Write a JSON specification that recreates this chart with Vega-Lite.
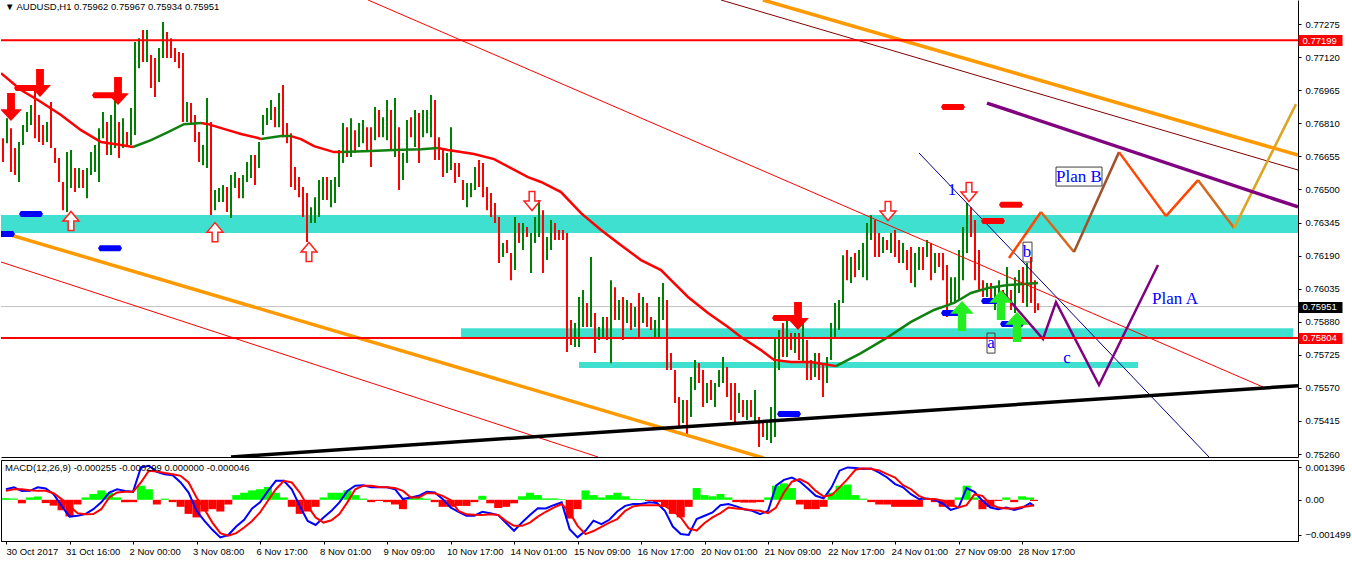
{
"$schema":"https://vega.github.io/schema/vega-lite/v6.json",
"padding":0,
"background":"white",
"spacing":3,
"bounds":"flush",
"config":{"view":{"stroke":null},"axis":{"labelFont":"Liberation Sans","labelFontSize":9.5,"labelColor":"#000000","tickColor":"#000000","domainColor":"#000000","grid":false,"labelOverlap":false},"title":{"font":"Liberation Sans","fontSize":9.5,"fontWeight":"normal","color":"#000000"}},
"datasets":{
"bars":[
{"t":1,"o":0.7674,"h":0.7674,"l":0.76629,"c":0.76629},
{"t":3,"o":0.76717,"h":0.76834,"l":0.76717,"c":0.76834},
{"t":5,"o":0.76787,"h":0.76787,"l":0.76582,"c":0.76582},
{"t":7,"o":0.76694,"h":0.76694,"l":0.76568,"c":0.76568},
{"t":9,"o":0.76535,"h":0.76722,"l":0.76535,"c":0.76722},
{"t":11,"o":0.76708,"h":0.76802,"l":0.76708,"c":0.76802},
{"t":13,"o":0.76769,"h":0.76863,"l":0.76769,"c":0.76863},
{"t":15,"o":0.76802,"h":0.76896,"l":0.76802,"c":0.76896},
{"t":17,"o":0.76976,"h":0.76976,"l":0.7674,"c":0.7674},
{"t":19,"o":0.76849,"h":0.76849,"l":0.76722,"c":0.76722},
{"t":21,"o":0.76802,"h":0.76802,"l":0.76708,"c":0.76708},
{"t":23,"o":0.76722,"h":0.76816,"l":0.76722,"c":0.76816},
{"t":25,"o":0.7691,"h":0.7691,"l":0.76694,"c":0.76694},
{"t":27,"o":0.76694,"h":0.76694,"l":0.76624,"c":0.76624},
{"t":29,"o":0.76647,"h":0.76647,"l":0.76535,"c":0.76535},
{"t":31,"o":0.76535,"h":0.76535,"l":0.76403,"c":0.76403},
{"t":33,"o":0.76394,"h":0.76675,"l":0.76394,"c":0.76675},
{"t":35,"o":0.76507,"h":0.76685,"l":0.76507,"c":0.76685},
{"t":37,"o":0.766,"h":0.766,"l":0.76488,"c":0.76488},
{"t":39,"o":0.76507,"h":0.766,"l":0.76507,"c":0.766},
{"t":41,"o":0.76591,"h":0.76591,"l":0.76507,"c":0.76507},
{"t":43,"o":0.76459,"h":0.766,"l":0.76459,"c":0.766},
{"t":45,"o":0.76568,"h":0.76675,"l":0.76568,"c":0.76675},
{"t":47,"o":0.76582,"h":0.76708,"l":0.76582,"c":0.76708},
{"t":49,"o":0.76535,"h":0.76787,"l":0.76535,"c":0.76787},
{"t":51,"o":0.7674,"h":0.76863,"l":0.7674,"c":0.76863},
{"t":53,"o":0.76816,"h":0.76816,"l":0.76661,"c":0.76661},
{"t":55,"o":0.76661,"h":0.76849,"l":0.76661,"c":0.76849},
{"t":57,"o":0.76694,"h":0.76943,"l":0.76694,"c":0.76943},
{"t":59,"o":0.76816,"h":0.76816,"l":0.76647,"c":0.76647},
{"t":61,"o":0.76694,"h":0.76834,"l":0.76694,"c":0.76834},
{"t":63,"o":0.76769,"h":0.76769,"l":0.76708,"c":0.76708},
{"t":65,"o":0.76708,"h":0.76882,"l":0.76708,"c":0.76882},
{"t":67,"o":0.76755,"h":0.77191,"l":0.76755,"c":0.77191},
{"t":69,"o":0.77068,"h":0.77209,"l":0.77068,"c":0.77209},
{"t":71,"o":0.77247,"h":0.77247,"l":0.77097,"c":0.77097},
{"t":73,"o":0.77097,"h":0.77247,"l":0.77097,"c":0.77247},
{"t":75,"o":0.7713,"h":0.7713,"l":0.76976,"c":0.76976},
{"t":77,"o":0.77116,"h":0.77116,"l":0.76933,"c":0.76933},
{"t":79,"o":0.77004,"h":0.77163,"l":0.77004,"c":0.77163},
{"t":81,"o":0.77116,"h":0.77285,"l":0.77116,"c":0.77285},
{"t":83,"o":0.77238,"h":0.77238,"l":0.77116,"c":0.77116},
{"t":85,"o":0.77209,"h":0.77209,"l":0.77116,"c":0.77116},
{"t":87,"o":0.77163,"h":0.77163,"l":0.77097,"c":0.77097},
{"t":89,"o":0.77144,"h":0.77144,"l":0.77068,"c":0.77068},
{"t":91,"o":0.77139,"h":0.77139,"l":0.76816,"c":0.76816},
{"t":93,"o":0.76816,"h":0.7691,"l":0.76816,"c":0.7691},
{"t":95,"o":0.76905,"h":0.76905,"l":0.76802,"c":0.76802},
{"t":97,"o":0.76849,"h":0.76849,"l":0.76722,"c":0.76722},
{"t":99,"o":0.76769,"h":0.76769,"l":0.76629,"c":0.76629},
{"t":101,"o":0.76614,"h":0.76708,"l":0.76614,"c":0.76708},
{"t":103,"o":0.766,"h":0.76929,"l":0.766,"c":0.76929},
{"t":105,"o":0.76816,"h":0.76816,"l":0.7638,"c":0.7638},
{"t":107,"o":0.76403,"h":0.76497,"l":0.76403,"c":0.76497},
{"t":109,"o":0.76441,"h":0.76507,"l":0.76441,"c":0.76507},
{"t":111,"o":0.76441,"h":0.76521,"l":0.76441,"c":0.76521},
{"t":113,"o":0.76511,"h":0.76511,"l":0.76394,"c":0.76394},
{"t":115,"o":0.76366,"h":0.76568,"l":0.76366,"c":0.76568},
{"t":117,"o":0.76507,"h":0.76582,"l":0.76507,"c":0.76582},
{"t":119,"o":0.76554,"h":0.76554,"l":0.76459,"c":0.76459},
{"t":121,"o":0.76459,"h":0.76568,"l":0.76459,"c":0.76568},
{"t":123,"o":0.76535,"h":0.76629,"l":0.76535,"c":0.76629},
{"t":125,"o":0.76554,"h":0.76661,"l":0.76554,"c":0.76661},
{"t":127,"o":0.76661,"h":0.76661,"l":0.76521,"c":0.76521},
{"t":129,"o":0.766,"h":0.76722,"l":0.766,"c":0.76722},
{"t":131,"o":0.76755,"h":0.76849,"l":0.76755,"c":0.76849},
{"t":133,"o":0.76802,"h":0.76882,"l":0.76802,"c":0.76882},
{"t":135,"o":0.76825,"h":0.76919,"l":0.76825,"c":0.76919},
{"t":137,"o":0.76886,"h":0.76886,"l":0.76792,"c":0.76792},
{"t":139,"o":0.76792,"h":0.76952,"l":0.76792,"c":0.76952},
{"t":141,"o":0.7699,"h":0.7699,"l":0.76745,"c":0.76745},
{"t":143,"o":0.76811,"h":0.76811,"l":0.76717,"c":0.76717},
{"t":145,"o":0.76764,"h":0.76764,"l":0.76511,"c":0.76511},
{"t":147,"o":0.76605,"h":0.76605,"l":0.76497,"c":0.76497},
{"t":149,"o":0.76558,"h":0.76558,"l":0.76464,"c":0.76464},
{"t":151,"o":0.76511,"h":0.76511,"l":0.76371,"c":0.76371},
{"t":153,"o":0.76483,"h":0.76483,"l":0.76254,"c":0.76254},
{"t":155,"o":0.76343,"h":0.76417,"l":0.76343,"c":0.76417},
{"t":157,"o":0.76343,"h":0.76464,"l":0.76343,"c":0.76464},
{"t":159,"o":0.76371,"h":0.76544,"l":0.76371,"c":0.76544},
{"t":161,"o":0.7645,"h":0.76558,"l":0.7645,"c":0.76558},
{"t":163,"o":0.76558,"h":0.76558,"l":0.7645,"c":0.7645},
{"t":165,"o":0.76417,"h":0.76544,"l":0.76417,"c":0.76544},
{"t":167,"o":0.76436,"h":0.76558,"l":0.76436,"c":0.76558},
{"t":169,"o":0.76511,"h":0.76685,"l":0.76511,"c":0.76685},
{"t":171,"o":0.76624,"h":0.76811,"l":0.76624,"c":0.76811},
{"t":173,"o":0.76792,"h":0.76792,"l":0.76652,"c":0.76652},
{"t":175,"o":0.76652,"h":0.76834,"l":0.76652,"c":0.76834},
{"t":177,"o":0.76778,"h":0.76778,"l":0.76671,"c":0.76671},
{"t":179,"o":0.76699,"h":0.76811,"l":0.76699,"c":0.76811},
{"t":181,"o":0.76717,"h":0.76825,"l":0.76717,"c":0.76825},
{"t":183,"o":0.76792,"h":0.76792,"l":0.76685,"c":0.76685},
{"t":185,"o":0.76792,"h":0.76792,"l":0.76605,"c":0.76605},
{"t":187,"o":0.76731,"h":0.76886,"l":0.76731,"c":0.76886},
{"t":189,"o":0.76872,"h":0.76872,"l":0.76745,"c":0.76745},
{"t":191,"o":0.76745,"h":0.76839,"l":0.76745,"c":0.76839},
{"t":193,"o":0.76731,"h":0.76919,"l":0.76731,"c":0.76919},
{"t":195,"o":0.76872,"h":0.76872,"l":0.76685,"c":0.76685},
{"t":197,"o":0.76652,"h":0.76929,"l":0.76652,"c":0.76929},
{"t":199,"o":0.76792,"h":0.76792,"l":0.76497,"c":0.76497},
{"t":201,"o":0.76544,"h":0.76671,"l":0.76544,"c":0.76671},
{"t":203,"o":0.76624,"h":0.76825,"l":0.76624,"c":0.76825},
{"t":205,"o":0.76839,"h":0.76839,"l":0.76745,"c":0.76745},
{"t":207,"o":0.76699,"h":0.76872,"l":0.76699,"c":0.76872},
{"t":209,"o":0.76858,"h":0.76858,"l":0.76624,"c":0.76624},
{"t":211,"o":0.76745,"h":0.76872,"l":0.76745,"c":0.76872},
{"t":213,"o":0.76764,"h":0.76872,"l":0.76764,"c":0.76872},
{"t":215,"o":0.76745,"h":0.76943,"l":0.76745,"c":0.76943},
{"t":217,"o":0.76919,"h":0.76919,"l":0.76638,"c":0.76638},
{"t":219,"o":0.76745,"h":0.76745,"l":0.76638,"c":0.76638},
{"t":221,"o":0.76685,"h":0.76685,"l":0.76558,"c":0.76558},
{"t":223,"o":0.76577,"h":0.76671,"l":0.76577,"c":0.76671},
{"t":225,"o":0.76591,"h":0.76792,"l":0.76591,"c":0.76792},
{"t":227,"o":0.76624,"h":0.76624,"l":0.7653,"c":0.7653},
{"t":229,"o":0.76624,"h":0.76624,"l":0.76558,"c":0.76558},
{"t":231,"o":0.76544,"h":0.76544,"l":0.7645,"c":0.7645},
{"t":233,"o":0.76417,"h":0.7653,"l":0.76417,"c":0.7653},
{"t":235,"o":0.76464,"h":0.7653,"l":0.76464,"c":0.7653},
{"t":237,"o":0.76497,"h":0.76605,"l":0.76497,"c":0.76605},
{"t":239,"o":0.76638,"h":0.76638,"l":0.76511,"c":0.76511},
{"t":241,"o":0.76624,"h":0.76624,"l":0.76464,"c":0.76464},
{"t":243,"o":0.76511,"h":0.76511,"l":0.76403,"c":0.76403},
{"t":245,"o":0.76483,"h":0.76483,"l":0.76371,"c":0.76371},
{"t":247,"o":0.76436,"h":0.76436,"l":0.76343,"c":0.76343},
{"t":249,"o":0.76371,"h":0.76371,"l":0.76155,"c":0.76155},
{"t":251,"o":0.76183,"h":0.76249,"l":0.76183,"c":0.76249},
{"t":253,"o":0.76263,"h":0.76263,"l":0.76202,"c":0.76202},
{"t":255,"o":0.76202,"h":0.76202,"l":0.76075,"c":0.76075},
{"t":257,"o":0.76122,"h":0.76371,"l":0.76122,"c":0.76371},
{"t":259,"o":0.76343,"h":0.76343,"l":0.76249,"c":0.76249},
{"t":261,"o":0.76216,"h":0.76343,"l":0.76216,"c":0.76343},
{"t":263,"o":0.76324,"h":0.76324,"l":0.76277,"c":0.76277},
{"t":265,"o":0.76108,"h":0.76296,"l":0.76108,"c":0.76296},
{"t":267,"o":0.76249,"h":0.76371,"l":0.76249,"c":0.76371},
{"t":269,"o":0.76277,"h":0.7645,"l":0.76277,"c":0.7645},
{"t":271,"o":0.76403,"h":0.76403,"l":0.76108,"c":0.76108},
{"t":273,"o":0.76169,"h":0.76277,"l":0.76169,"c":0.76277},
{"t":275,"o":0.76216,"h":0.76357,"l":0.76216,"c":0.76357},
{"t":277,"o":0.76343,"h":0.76343,"l":0.76263,"c":0.76263},
{"t":279,"o":0.7631,"h":0.7631,"l":0.76263,"c":0.76263},
{"t":281,"o":0.7631,"h":0.7631,"l":0.76263,"c":0.76263},
{"t":283,"o":0.76296,"h":0.76296,"l":0.75738,"c":0.75738},
{"t":285,"o":0.75888,"h":0.75888,"l":0.75771,"c":0.75771},
{"t":287,"o":0.75761,"h":0.75874,"l":0.75761,"c":0.75874},
{"t":289,"o":0.75761,"h":0.75996,"l":0.75761,"c":0.75996},
{"t":291,"o":0.75855,"h":0.76029,"l":0.75855,"c":0.76029},
{"t":293,"o":0.75968,"h":0.75968,"l":0.75855,"c":0.75855},
{"t":295,"o":0.75855,"h":0.76183,"l":0.75855,"c":0.76183},
{"t":297,"o":0.75921,"h":0.75921,"l":0.75733,"c":0.75733},
{"t":299,"o":0.75794,"h":0.75855,"l":0.75794,"c":0.75855},
{"t":301,"o":0.75808,"h":0.75902,"l":0.75808,"c":0.75902},
{"t":303,"o":0.75902,"h":0.75902,"l":0.75794,"c":0.75794},
{"t":305,"o":0.75686,"h":0.76075,"l":0.75686,"c":0.76075},
{"t":307,"o":0.76042,"h":0.76042,"l":0.75888,"c":0.75888},
{"t":309,"o":0.75888,"h":0.75982,"l":0.75888,"c":0.75982},
{"t":311,"o":0.75996,"h":0.75996,"l":0.75794,"c":0.75794},
{"t":313,"o":0.75874,"h":0.75982,"l":0.75874,"c":0.75982},
{"t":315,"o":0.75968,"h":0.75968,"l":0.75841,"c":0.75841},
{"t":317,"o":0.75855,"h":0.75949,"l":0.75855,"c":0.75949},
{"t":319,"o":0.76015,"h":0.76015,"l":0.75808,"c":0.75808},
{"t":321,"o":0.75874,"h":0.75996,"l":0.75874,"c":0.75996},
{"t":323,"o":0.75968,"h":0.75968,"l":0.75855,"c":0.75855},
{"t":325,"o":0.75902,"h":0.75902,"l":0.75841,"c":0.75841},
{"t":327,"o":0.75808,"h":0.75888,"l":0.75808,"c":0.75888},
{"t":329,"o":0.75808,"h":0.75996,"l":0.75808,"c":0.75996},
{"t":331,"o":0.75888,"h":0.76061,"l":0.75888,"c":0.76061},
{"t":333,"o":0.75982,"h":0.75982,"l":0.75654,"c":0.75654},
{"t":335,"o":0.75733,"h":0.75733,"l":0.75654,"c":0.75654},
{"t":337,"o":0.75654,"h":0.75654,"l":0.75499,"c":0.75499},
{"t":339,"o":0.75527,"h":0.75527,"l":0.75387,"c":0.75387},
{"t":341,"o":0.75405,"h":0.75513,"l":0.75405,"c":0.75513},
{"t":343,"o":0.75513,"h":0.75513,"l":0.7534,"c":0.7534},
{"t":345,"o":0.75433,"h":0.75621,"l":0.75433,"c":0.75621},
{"t":347,"o":0.7556,"h":0.75701,"l":0.7556,"c":0.75701},
{"t":349,"o":0.75687,"h":0.75687,"l":0.75593,"c":0.75593},
{"t":351,"o":0.75654,"h":0.75654,"l":0.7548,"c":0.7548},
{"t":353,"o":0.75499,"h":0.75593,"l":0.75499,"c":0.75593},
{"t":355,"o":0.75607,"h":0.75607,"l":0.75513,"c":0.75513},
{"t":357,"o":0.7548,"h":0.75593,"l":0.7548,"c":0.75593},
{"t":359,"o":0.75574,"h":0.75654,"l":0.75574,"c":0.75654},
{"t":361,"o":0.75593,"h":0.75715,"l":0.75593,"c":0.75715},
{"t":363,"o":0.75668,"h":0.75668,"l":0.75527,"c":0.75527},
{"t":365,"o":0.75593,"h":0.75593,"l":0.75419,"c":0.75419},
{"t":367,"o":0.75593,"h":0.75593,"l":0.75405,"c":0.75405},
{"t":369,"o":0.75452,"h":0.75546,"l":0.75452,"c":0.75546},
{"t":371,"o":0.75513,"h":0.75513,"l":0.75433,"c":0.75433},
{"t":373,"o":0.75419,"h":0.75513,"l":0.75419,"c":0.75513},
{"t":375,"o":0.75513,"h":0.75513,"l":0.75433,"c":0.75433},
{"t":377,"o":0.75405,"h":0.7556,"l":0.75405,"c":0.7556},
{"t":379,"o":0.75433,"h":0.75433,"l":0.75293,"c":0.75293},
{"t":381,"o":0.75405,"h":0.75405,"l":0.7534,"c":0.7534},
{"t":383,"o":0.75326,"h":0.75419,"l":0.75326,"c":0.75419},
{"t":385,"o":0.75312,"h":0.7548,"l":0.75312,"c":0.7548},
{"t":387,"o":0.7534,"h":0.75808,"l":0.7534,"c":0.75808},
{"t":389,"o":0.75654,"h":0.75841,"l":0.75654,"c":0.75841},
{"t":391,"o":0.75874,"h":0.75874,"l":0.75715,"c":0.75715},
{"t":393,"o":0.75715,"h":0.75902,"l":0.75715,"c":0.75902},
{"t":395,"o":0.75827,"h":0.75827,"l":0.75747,"c":0.75747},
{"t":397,"o":0.75733,"h":0.75827,"l":0.75733,"c":0.75827},
{"t":399,"o":0.75827,"h":0.75827,"l":0.75701,"c":0.75701},
{"t":401,"o":0.75687,"h":0.75874,"l":0.75687,"c":0.75874},
{"t":403,"o":0.75794,"h":0.75794,"l":0.75607,"c":0.75607},
{"t":405,"o":0.75701,"h":0.75701,"l":0.75607,"c":0.75607},
{"t":407,"o":0.75621,"h":0.75733,"l":0.75621,"c":0.75733},
{"t":409,"o":0.75733,"h":0.75733,"l":0.75607,"c":0.75607},
{"t":411,"o":0.75687,"h":0.75687,"l":0.75527,"c":0.75527},
{"t":413,"o":0.75593,"h":0.75715,"l":0.75593,"c":0.75715},
{"t":415,"o":0.75701,"h":0.75874,"l":0.75701,"c":0.75874},
{"t":417,"o":0.75808,"h":0.75968,"l":0.75808,"c":0.75968},
{"t":419,"o":0.75841,"h":0.75982,"l":0.75841,"c":0.75982},
{"t":421,"o":0.75968,"h":0.76192,"l":0.75968,"c":0.76192},
{"t":423,"o":0.76216,"h":0.76216,"l":0.76075,"c":0.76075},
{"t":425,"o":0.76061,"h":0.76183,"l":0.76061,"c":0.76183},
{"t":427,"o":0.76202,"h":0.76202,"l":0.76089,"c":0.76089},
{"t":429,"o":0.76122,"h":0.76216,"l":0.76122,"c":0.76216},
{"t":431,"o":0.76089,"h":0.76249,"l":0.76089,"c":0.76249},
{"t":433,"o":0.76075,"h":0.76343,"l":0.76075,"c":0.76343},
{"t":435,"o":0.76263,"h":0.7638,"l":0.76263,"c":0.7638},
{"t":437,"o":0.76357,"h":0.76357,"l":0.76183,"c":0.76183},
{"t":439,"o":0.76296,"h":0.76296,"l":0.76183,"c":0.76183},
{"t":441,"o":0.76202,"h":0.76277,"l":0.76202,"c":0.76277},
{"t":443,"o":0.76263,"h":0.76263,"l":0.76216,"c":0.76216},
{"t":445,"o":0.76202,"h":0.76296,"l":0.76202,"c":0.76296},
{"t":447,"o":0.7631,"h":0.7631,"l":0.76183,"c":0.76183},
{"t":449,"o":0.76263,"h":0.76263,"l":0.76155,"c":0.76155},
{"t":451,"o":0.76155,"h":0.76249,"l":0.76155,"c":0.76249},
{"t":453,"o":0.76216,"h":0.76216,"l":0.76122,"c":0.76122},
{"t":455,"o":0.7623,"h":0.7623,"l":0.76061,"c":0.76061},
{"t":457,"o":0.76042,"h":0.76202,"l":0.76042,"c":0.76202},
{"t":459,"o":0.76122,"h":0.7623,"l":0.76122,"c":0.7623},
{"t":461,"o":0.7623,"h":0.7623,"l":0.76122,"c":0.76122},
{"t":463,"o":0.76183,"h":0.76263,"l":0.76183,"c":0.76263},
{"t":465,"o":0.76249,"h":0.76249,"l":0.76075,"c":0.76075},
{"t":467,"o":0.76108,"h":0.76202,"l":0.76108,"c":0.76202},
{"t":469,"o":0.76202,"h":0.76202,"l":0.76136,"c":0.76136},
{"t":471,"o":0.76202,"h":0.76202,"l":0.76075,"c":0.76075},
{"t":473,"o":0.76146,"h":0.76146,"l":0.75902,"c":0.75902},
{"t":475,"o":0.75968,"h":0.76089,"l":0.75968,"c":0.76089},
{"t":477,"o":0.75968,"h":0.76089,"l":0.75968,"c":0.76089},
{"t":479,"o":0.75982,"h":0.76216,"l":0.75982,"c":0.76216},
{"t":481,"o":0.76075,"h":0.76324,"l":0.76075,"c":0.76324},
{"t":483,"o":0.76202,"h":0.76436,"l":0.76202,"c":0.76436},
{"t":485,"o":0.76417,"h":0.76417,"l":0.76277,"c":0.76277},
{"t":487,"o":0.76357,"h":0.76357,"l":0.76075,"c":0.76075},
{"t":489,"o":0.76216,"h":0.76216,"l":0.76029,"c":0.76029},
{"t":491,"o":0.76075,"h":0.76075,"l":0.75996,"c":0.75996},
{"t":493,"o":0.75996,"h":0.76061,"l":0.75996,"c":0.76061},
{"t":495,"o":0.76061,"h":0.76061,"l":0.75982,"c":0.75982},
{"t":497,"o":0.75935,"h":0.76042,"l":0.75935,"c":0.76042},
{"t":499,"o":0.75996,"h":0.76075,"l":0.75996,"c":0.76075},
{"t":501,"o":0.76029,"h":0.76029,"l":0.75902,"c":0.75902},
{"t":503,"o":0.75996,"h":0.76136,"l":0.75996,"c":0.76136},
{"t":505,"o":0.76029,"h":0.76029,"l":0.75935,"c":0.75935},
{"t":507,"o":0.75921,"h":0.76089,"l":0.75921,"c":0.76089},
{"t":509,"o":0.76015,"h":0.76122,"l":0.76015,"c":0.76122},
{"t":511,"o":0.76136,"h":0.76136,"l":0.75968,"c":0.75968},
{"t":513,"o":0.75949,"h":0.76155,"l":0.75949,"c":0.76155},
{"t":515,"o":0.76183,"h":0.76183,"l":0.75968,"c":0.75968},
{"t":517,"o":0.76075,"h":0.76075,"l":0.75921,"c":0.75921},
{"t":518.5,"o":0.75962,"h":0.75967,"l":0.75934,"c":0.75951}
],
"ma":[
{"t":0,"p":0.77045,"seg":1,"dir":"down"},{"t":10,"p":0.76966,"seg":1,"dir":"down"},{"t":20,"p":0.7691,"seg":1,"dir":"down"},{"t":30,"p":0.76849,"seg":1,"dir":"down"},{"t":40,"p":0.76778,"seg":1,"dir":"down"},{"t":50,"p":0.76722,"seg":1,"dir":"down"},{"t":60,"p":0.76708,"seg":1,"dir":"down"},{"t":66,"p":0.76699,"seg":1,"dir":"down"},
{"t":66,"p":0.76699,"seg":2,"dir":"up"},{"t":75,"p":0.76731,"seg":2,"dir":"up"},{"t":83.5,"p":0.76769,"seg":2,"dir":"up"},{"t":91.5,"p":0.76806,"seg":2,"dir":"up"},{"t":100,"p":0.76811,"seg":2,"dir":"up"},
{"t":100,"p":0.76811,"seg":3,"dir":"down"},{"t":103.5,"p":0.76806,"seg":3,"dir":"down"},{"t":113.5,"p":0.76778,"seg":3,"dir":"down"},{"t":120,"p":0.7676,"seg":3,"dir":"down"},{"t":128.5,"p":0.76741,"seg":3,"dir":"down"},{"t":130,"p":0.76736,"seg":3,"dir":"down"},
{"t":130,"p":0.76736,"seg":4,"dir":"up"},{"t":140,"p":0.7675,"seg":4,"dir":"up"},{"t":145,"p":0.7675,"seg":4,"dir":"up"},
{"t":145,"p":0.7675,"seg":5,"dir":"down"},{"t":150,"p":0.76736,"seg":5,"dir":"down"},{"t":156.5,"p":0.76703,"seg":5,"dir":"down"},{"t":166.5,"p":0.76675,"seg":5,"dir":"down"},{"t":170,"p":0.76675,"seg":5,"dir":"down"},
{"t":170,"p":0.76675,"seg":6,"dir":"up"},{"t":185,"p":0.7668,"seg":6,"dir":"up"},{"t":196.5,"p":0.76685,"seg":6,"dir":"up"},{"t":210,"p":0.76689,"seg":6,"dir":"up"},{"t":218.5,"p":0.76694,"seg":6,"dir":"up"},
{"t":218.5,"p":0.76694,"seg":7,"dir":"down"},{"t":223.5,"p":0.76685,"seg":7,"dir":"down"},{"t":236.5,"p":0.76666,"seg":7,"dir":"down"},{"t":246.5,"p":0.76642,"seg":7,"dir":"down"},{"t":255,"p":0.766,"seg":7,"dir":"down"},{"t":263.5,"p":0.76558,"seg":7,"dir":"down"},{"t":270,"p":0.76535,"seg":7,"dir":"down"},{"t":280,"p":0.76488,"seg":7,"dir":"down"},{"t":290,"p":0.76389,"seg":7,"dir":"down"},{"t":300,"p":0.7631,"seg":7,"dir":"down"},{"t":310,"p":0.76239,"seg":7,"dir":"down"},{"t":320,"p":0.76169,"seg":7,"dir":"down"},{"t":330,"p":0.76122,"seg":7,"dir":"down"},{"t":335,"p":0.76075,"seg":7,"dir":"down"},{"t":343.5,"p":0.75996,"seg":7,"dir":"down"},{"t":353.5,"p":0.75921,"seg":7,"dir":"down"},{"t":363.5,"p":0.75855,"seg":7,"dir":"down"},{"t":370,"p":0.75808,"seg":7,"dir":"down"},{"t":380,"p":0.75747,"seg":7,"dir":"down"},{"t":386.5,"p":0.75701,"seg":7,"dir":"down"},{"t":395,"p":0.75691,"seg":7,"dir":"down"},{"t":405,"p":0.75691,"seg":7,"dir":"down"},{"t":417.5,"p":0.75672,"seg":7,"dir":"down"},
{"t":417.5,"p":0.75672,"seg":8,"dir":"up"},{"t":430,"p":0.75733,"seg":8,"dir":"up"},{"t":443.5,"p":0.75808,"seg":8,"dir":"up"},{"t":455,"p":0.75879,"seg":8,"dir":"up"},{"t":466.5,"p":0.75935,"seg":8,"dir":"up"},{"t":476.5,"p":0.75968,"seg":8,"dir":"up"},{"t":485,"p":0.76015,"seg":8,"dir":"up"},{"t":493.5,"p":0.76038,"seg":8,"dir":"up"},{"t":503.5,"p":0.76052,"seg":8,"dir":"up"},{"t":518.5,"p":0.76061,"seg":8,"dir":"up"}
],
"bands":[{"t":0,"t2":648.5,"p1":0.76296,"p2":0.7638},{"t":230,"t2":646,"p1":0.75808,"p2":0.7585},{"t":289,"t2":568.5,"p1":0.75663,"p2":0.75691}],
"levels":[{"p":0.77199},{"p":0.75804}],
"bid":[{"p":0.75951}],
"lines":[
{"id":"redA","t":183.5,"p":0.77388},{"id":"redA","t":631,"p":0.75574},
{"id":"redB","t":0,"p":0.7616},{"id":"redB","t":298.5,"p":0.75246},
{"id":"orangeLo","t":0,"p":0.763},{"id":"orangeLo","t":381.5,"p":0.75241},
{"id":"orangeHi","t":381,"p":0.77388},{"id":"orangeHi","t":648.5,"p":0.76661},
{"id":"maroon","t":360,"p":0.77388},{"id":"maroon","t":648.5,"p":0.76591},
{"id":"purple","t":493,"p":0.76905},{"id":"purple","t":648.5,"p":0.76418},
{"id":"black","t":115,"p":0.75246},{"id":"black","t":648.5,"p":0.7558},
{"id":"navy","t":459,"p":0.76671},{"id":"navy","t":604,"p":0.75246},
{"id":"B1","t":504,"p":0.76179},{"id":"B1","t":520,"p":0.76394},
{"id":"B2","t":520,"p":0.76394},{"id":"B2","t":536.5,"p":0.76207},
{"id":"B3","t":536.5,"p":0.76207},{"id":"B3","t":559,"p":0.76675},
{"id":"B4","t":559,"p":0.76675},{"id":"B4","t":582.5,"p":0.76375},
{"id":"B5","t":582.5,"p":0.76375},{"id":"B5","t":598.5,"p":0.76544},
{"id":"B6","t":598.5,"p":0.76544},{"id":"B6","t":616.5,"p":0.76319},
{"id":"B7","t":616.5,"p":0.76319},{"id":"B7","t":647.5,"p":0.769},
{"id":"A","t":501,"p":0.76015},{"id":"A","t":521,"p":0.75799},{"id":"A","t":527.5,"p":0.75972},{"id":"A","t":549,"p":0.75583},{"id":"A","t":578.5,"p":0.76146}
],
"signals":[
{"k":"sell","t":5,"p":0.76886},{"k":"sell","t":19.5,"p":0.76999},{"k":"sell","t":58.5,"p":0.76961},{"k":"sell","t":398.5,"p":0.75907},
{"k":"sellH","t":265.5,"p":0.76446},{"k":"sellH","t":443.5,"p":0.76399},{"k":"sellH","t":484,"p":0.76488},
{"k":"buyH","t":35,"p":0.76352},{"k":"buyH","t":107,"p":0.763},{"k":"buyH","t":154,"p":0.76207},
{"k":"buy","t":480.5,"p":0.75907},{"k":"buy","t":500,"p":0.75958},{"k":"buy","t":508,"p":0.75855},
{"k":"mB","t":15,"p":0.76385},{"k":"mB","t":54.5,"p":0.76225},{"k":"mB","t":1,"p":0.76291},{"k":"mB","t":394,"p":0.75448},{"k":"mB","t":476,"p":0.75921},{"k":"mB","t":496,"p":0.75977},{"k":"mB","t":505.5,"p":0.75869},
{"k":"mR","t":12.5,"p":0.76975},{"k":"mR","t":51.5,"p":0.76942},{"k":"mR","t":391.5,"p":0.75897},{"k":"mR","t":476,"p":0.76886},{"k":"mR","t":496,"p":0.76352},{"k":"mR","t":505,"p":0.76428}
],
"notes":[{"t":475.5,"p":0.76497,"txt":"1"},{"t":495,"p":0.7578,"txt":"a"},{"t":513,"p":0.76207,"txt":"b"},{"t":533,"p":0.7571,"txt":"c"},{"t":539,"p":0.76558,"txt":"Plan B"},{"t":587,"p":0.75986,"txt":"Plan A"}],
"boxes":[{"t":527.5,"t2":550.5,"p1":0.76516,"p2":0.76605},{"t":493,"t2":497,"p1":0.75733,"p2":0.75827},{"t":511,"t2":515.5,"p1":0.7616,"p2":0.76253}],
"macd":[
{"t":0,"m":0.00045,"s":0.00038,"h":0.00007},{"t":4,"m":0.00053,"s":0.00045,"h":0.00006},{"t":8,"m":0.00037,"s":0.00045,"h":-0.00015},{"t":12,"m":0.00038,"s":0.00041,"h":0.0001},{"t":16,"m":0.00053,"s":0.00038,"h":0.00014},{"t":20,"m":0.00048,"s":0.00038,"h":-0.00014},{"t":24,"m":0.00024,"s":0.00028,"h":-0.00025},{"t":28,"m":-0.00026,"s":0.00003,"h":-0.00045},{"t":32,"m":-0.00072,"s":-0.00026,"h":-0.00071},{"t":36,"m":-0.00068,"s":-0.00057,"h":-0.0002},{"t":40,"m":-0.00061,"s":-0.00062,"h":0.0001},{"t":44,"m":-0.0004,"s":-0.00061,"h":0.00025},{"t":48,"m":-0.00011,"s":-0.0004,"h":0.0004},{"t":52,"m":0.00031,"s":0.0001,"h":0.0003},{"t":56,"m":0.00045,"s":0.00031,"h":0.0001},{"t":60,"m":0.00038,"s":0.00034,"h":-0.0001},{"t":64,"m":0.00034,"s":0.00034,"h":-0.0001},{"t":68,"m":0.00138,"s":0.00074,"h":0.0006},{"t":72,"m":0.00145,"s":0.00124,"h":0.00045},{"t":76,"m":0.00119,"s":0.00121,"h":-0.0002},{"t":80,"m":0.00109,"s":0.00114,"h":0.00005},{"t":84,"m":0.00105,"s":0.00109,"h":-0.0001},{"t":88,"m":0.00074,"s":0.00102,"h":-0.0003},{"t":92,"m":0.00031,"s":0.00074,"h":-0.0006},{"t":96,"m":-0.00047,"s":0.0001,"h":-0.00075},{"t":100,"m":-0.0009,"s":-0.0004,"h":-0.0005},{"t":104,"m":-0.00128,"s":-0.00097,"h":-0.0004},{"t":108,"m":-0.0016,"s":-0.00142,"h":-0.0005},{"t":112,"m":-0.0015,"s":-0.00153,"h":-0.0002},{"t":116,"m":-0.00114,"s":-0.00142,"h":0.0002},{"t":120,"m":-0.00085,"s":-0.00118,"h":0.0003},{"t":124,"m":-0.00037,"s":-0.0009,"h":0.0004},{"t":128,"m":-0.00011,"s":-0.00054,"h":0.00045},{"t":132,"m":0.00038,"s":-0.00004,"h":0.00055},{"t":136,"m":0.00081,"s":0.00045,"h":0.0003},{"t":140,"m":0.00081,"s":0.00081,"h":0.0001},{"t":144,"m":0.00045,"s":0.00074,"h":-0.0003},{"t":148,"m":-0.00026,"s":0.00031,"h":-0.0006},{"t":152,"m":-0.0009,"s":-0.00026,"h":-0.0005},{"t":156,"m":-0.00107,"s":-0.00075,"h":-0.0003},{"t":160,"m":-0.00075,"s":-0.00097,"h":0.0001},{"t":164,"m":-0.00047,"s":-0.00087,"h":0.0003},{"t":168,"m":-0.00011,"s":-0.00061,"h":0.0003},{"t":172,"m":0.00038,"s":-0.00011,"h":0.0004},{"t":176,"m":0.0006,"s":0.00045,"h":0.0002},{"t":180,"m":0.00062,"s":0.0006,"h":0.00005},{"t":184,"m":0.00053,"s":0.0006,"h":-0.0001},{"t":188,"m":0.00053,"s":0.00055,"h":-0.00005},{"t":192,"m":0.00053,"s":0.00053,"h":-0.0001},{"t":196,"m":0.00045,"s":0.0005,"h":-0.0002},{"t":200,"m":0.00003,"s":0.00038,"h":-0.0004},{"t":204,"m":0.0001,"s":0.0001,"h":0.0001},{"t":208,"m":0.00017,"s":0.0001,"h":0.0001},{"t":212,"m":0.00034,"s":0.00028,"h":0.00005},{"t":216,"m":0.00031,"s":0.00028,"h":-0.0001},{"t":220,"m":0.00003,"s":0.00017,"h":-0.0003},{"t":224,"m":-0.00033,"s":-0.00001,"h":-0.0003},{"t":228,"m":-0.00051,"s":-0.00047,"h":-0.00026},{"t":232,"m":-0.00068,"s":-0.00062,"h":-0.00026},{"t":236,"m":-0.00068,"s":-0.00064,"h":-0.0001},{"t":240,"m":-0.00051,"s":-0.00065,"h":0.00017},{"t":244,"m":-0.00057,"s":-0.00062,"h":-0.00015},{"t":248,"m":-0.00065,"s":-0.00065,"h":-0.00035},{"t":252,"m":-0.00099,"s":-0.00091,"h":-0.0003},{"t":256,"m":-0.00132,"s":-0.00111,"h":-0.00015},{"t":260,"m":-0.00097,"s":-0.00111,"h":0.00015},{"t":264,"m":-0.00065,"s":-0.00097,"h":0.0003},{"t":268,"m":-0.00036,"s":-0.00072,"h":0.0002},{"t":272,"m":-0.00037,"s":-0.00051,"h":0.00006},{"t":276,"m":-0.00023,"s":-0.00033,"h":0.00006},{"t":280,"m":-0.00011,"s":-0.00018,"h":0.00003},{"t":284,"m":-0.00125,"s":-0.00054,"h":-0.0008},{"t":288,"m":-0.0016,"s":-0.00111,"h":-0.0004},{"t":292,"m":-0.00132,"s":-0.00146,"h":0.0004},{"t":296,"m":-0.00089,"s":-0.00133,"h":0.0002},{"t":300,"m":-0.00104,"s":-0.00115,"h":0.0001},{"t":304,"m":-0.00085,"s":-0.00097,"h":0.0002},{"t":308,"m":-0.0005,"s":-0.00082,"h":0.0003},{"t":312,"m":-0.00026,"s":-0.00047,"h":0.00015},{"t":316,"m":-0.00018,"s":-0.00028,"h":0.00004},{"t":320,"m":-0.00018,"s":-0.00023,"h":0.00003},{"t":324,"m":-0.00011,"s":-0.00023,"h":-0.00005},{"t":328,"m":-0.00014,"s":-0.00023,"h":-0.0001},{"t":332,"m":-0.00047,"s":-0.00026,"h":-0.0003},{"t":336,"m":-0.00114,"s":-0.00047,"h":-0.0006},{"t":340,"m":-0.00146,"s":-0.00075,"h":-0.00075},{"t":344,"m":-0.0015,"s":-0.00122,"h":-0.0003},{"t":348,"m":-0.00082,"s":-0.00131,"h":0.0005},{"t":352,"m":-0.00068,"s":-0.00099,"h":0.0002},{"t":356,"m":-0.00054,"s":-0.00075,"h":0.00015},{"t":360,"m":-0.00023,"s":-0.00057,"h":0.00025},{"t":364,"m":-0.00018,"s":-0.00033,"h":0.0001},{"t":368,"m":-0.00028,"s":-0.00037,"h":-0.0001},{"t":372,"m":-0.0004,"s":-0.0004,"h":-0.00012},{"t":376,"m":-0.00047,"s":-0.00044,"h":-0.00012},{"t":380,"m":-0.00061,"s":-0.00047,"h":-0.0001},{"t":384,"m":-0.00047,"s":-0.00057,"h":0.0001},{"t":388,"m":0.0006,"s":-0.00033,"h":0.0006},{"t":392,"m":0.00085,"s":0.00031,"h":0.0007},{"t":396,"m":0.00095,"s":0.00077,"h":0.0005},{"t":400,"m":0.00078,"s":0.00088,"h":-0.0002},{"t":404,"m":0.00048,"s":0.00071,"h":-0.0004},{"t":408,"m":0.00017,"s":0.00038,"h":-0.0004},{"t":412,"m":0.00006,"s":0.00014,"h":-0.0003},{"t":416,"m":0.00053,"s":0.0002,"h":0.0003},{"t":420,"m":0.00124,"s":0.00053,"h":0.0006},{"t":424,"m":0.00138,"s":0.00088,"h":0.00065},{"t":428,"m":0.00135,"s":0.00128,"h":0.0002},{"t":432,"m":0.00131,"s":0.00134,"h":0.00005},{"t":436,"m":0.00133,"s":0.00131,"h":-0.0001},{"t":440,"m":0.00116,"s":0.00125,"h":-0.0002},{"t":444,"m":0.00095,"s":0.00109,"h":-0.0002},{"t":448,"m":0.00067,"s":0.00095,"h":-0.0003},{"t":452,"m":0.00053,"s":0.00062,"h":-0.0003},{"t":456,"m":0.00024,"s":0.00045,"h":-0.0003},{"t":460,"m":0.00003,"s":0.00017,"h":-0.0003},{"t":464,"m":0.00006,"s":0.00003,"h":0.00005},{"t":468,"m":0,"s":0.00003,"h":-0.0001},{"t":472,"m":-0.00016,"s":-0.00004,"h":-0.0003},{"t":476,"m":-0.00043,"s":-0.00018,"h":-0.0003},{"t":480,"m":-0.00033,"s":-0.00033,"h":0.0001},{"t":484,"m":0.0005,"s":-0.00023,"h":0.0006},{"t":488,"m":0.00034,"s":0.00023,"h":0.0001},{"t":492,"m":-0.00004,"s":0.00017,"h":-0.0004},{"t":496,"m":-0.00033,"s":-0.00018,"h":-0.0003},{"t":500,"m":-0.0004,"s":-0.00033,"h":-0.00005},{"t":504,"m":-0.00033,"s":-0.00037,"h":0.0001},{"t":508,"m":-0.00043,"s":-0.00037,"h":-0.0001},{"t":512,"m":-0.00034,"s":-0.00031,"h":0.00015},{"t":516,"m":-0.00014,"s":-0.00026,"h":0.0001},{"t":518,"m":-0.00026,"s":-0.00023,"h":-0.00005}
]
},
"vconcat":[
{
"width":1297,"height":457,
"title":{"text":"▼  AUDUSD,H1 0.75962 0.75967 0.75934 0.75951","anchor":"start","orient":"top","frame":"group","offset":-21,"baseline":"bottom","dx":4},
"resolve":{"axis":{"x":"independent","y":"independent"}},
"layer":[
{"data":{"name":"bands"},"mark":{"type":"rect","clip":true,"color":"#40E0D0"},
 "encoding":{"x":{"field":"t","type":"quantitative","scale":{"domain":[0,648.5],"nice":false,"zero":false},"axis":{"orient":"bottom","labels":false,"ticks":false,"domain":true,"title":null}},"x2":{"field":"t2"},
 "y":{"field":"p1","type":"quantitative","scale":{"domain":[0.75246,0.77388],"nice":false,"zero":false},"axis":{"orient":"right","values":[0.77275,0.7712,0.76965,0.7681,0.76655,0.765,0.76345,0.7619,0.76035,0.7588,0.75725,0.7557,0.75415,0.7526],"format":".5f","tickSize":3,"labelPadding":4,"title":null,"labelBound":false}},"y2":{"field":"p2"}}},
{"data":{"name":"bid"},"mark":{"type":"rule","clip":true,"color":"#C0C0C0","strokeWidth":1},
 "encoding":{"y":{"field":"p","type":"quantitative","scale":{"domain":[0.75246,0.77388],"nice":false,"zero":false},"axis":null}}},
{"data":{"name":"bars"},"mark":{"type":"rule","clip":true,"strokeWidth":2},
 "encoding":{"x":{"field":"t","type":"quantitative","axis":null},"y":{"field":"h","type":"quantitative","scale":{"domain":[0.75246,0.77388],"nice":false,"zero":false},"axis":null},"y2":{"field":"l"},
 "color":{"condition":{"test":"datum.c >= datum.o","value":"#008000"},"value":"#FF0000"}}},
{"data":{"name":"ma"},"transform":[{"filter":"datum.dir == 'down'"}],"mark":{"type":"line","clip":true,"color":"#FF0000","strokeWidth":2.5},
 "encoding":{"x":{"field":"t","type":"quantitative","axis":null},"y":{"field":"p","type":"quantitative","scale":{"domain":[0.75246,0.77388],"nice":false,"zero":false},"axis":null},"detail":{"field":"seg"}}},
{"data":{"name":"ma"},"transform":[{"filter":"datum.dir == 'up'"}],"mark":{"type":"line","clip":true,"color":"#108010","strokeWidth":2.5},
 "encoding":{"x":{"field":"t","type":"quantitative","axis":null},"y":{"field":"p","type":"quantitative","scale":{"domain":[0.75246,0.77388],"nice":false,"zero":false},"axis":null},"detail":{"field":"seg"}}},
{"data":{"name":"lines"},"transform":[{"filter":{"field":"id","oneOf":["redA","redB","maroon","navy"]}}],"mark":{"type":"line","clip":true,"strokeWidth":1},
 "encoding":{"x":{"field":"t","type":"quantitative","axis":null},"y":{"field":"p","type":"quantitative","scale":{"domain":[0.75246,0.77388],"nice":false,"zero":false},"axis":null},
 "color":{"field":"id","type":"nominal","legend":null,"scale":{"domain":["redA","redB","orangeLo","orangeHi","maroon","purple","black","navy","B1","B2","B3","B4","B5","B6","B7","A"],"range":["#FF0000","#FF0000","#FF9900","#FF9900","#800000","#800080","#000000","#000080","#FF4500","#D2691E","#A0522D","#FF4500","#FF4500","#D2691E","#DAA520","#800080"]}}}},
{"data":{"name":"lines"},"transform":[{"filter":{"field":"id","oneOf":["B1","B2","B3","B4","B5","B6","B7","A"]}}],"mark":{"type":"line","clip":true,"strokeWidth":2.5},
 "encoding":{"x":{"field":"t","type":"quantitative","axis":null},"y":{"field":"p","type":"quantitative","scale":{"domain":[0.75246,0.77388],"nice":false,"zero":false},"axis":null},
 "color":{"field":"id","type":"nominal","legend":null}}},
{"data":{"name":"lines"},"transform":[{"filter":{"field":"id","oneOf":["orangeLo","orangeHi","purple","black"]}}],"mark":{"type":"line","clip":true,"strokeWidth":3.5},
 "encoding":{"x":{"field":"t","type":"quantitative","axis":null},"y":{"field":"p","type":"quantitative","scale":{"domain":[0.75246,0.77388],"nice":false,"zero":false},"axis":null},
 "color":{"field":"id","type":"nominal","legend":null}}},
{"data":{"name":"levels"},"mark":{"type":"rule","clip":true,"color":"#FF0000","strokeWidth":2},
 "encoding":{"y":{"field":"p","type":"quantitative","scale":{"domain":[0.75246,0.77388],"nice":false,"zero":false},
 "axis":{"orient":"right","values":[0.77199,0.75951,0.75804],"format":".5f","domain":false,"grid":false,"tickSize":44,"tickWidth":11,"tickCap":"butt","tickColor":{"condition":{"test":"datum.value == 0.75951","value":"#000000"},"value":"#FF0000"},"labelColor":"#FFFFFF","labelPadding":-40,"title":null,"labelBound":false}}}},
{"data":{"name":"boxes"},"mark":{"type":"rect","clip":true,"fill":null,"fillOpacity":0,"stroke":"#404040","strokeWidth":1},
 "encoding":{"x":{"field":"t","type":"quantitative","axis":null},"x2":{"field":"t2"},"y":{"field":"p1","type":"quantitative","scale":{"domain":[0.75246,0.77388],"nice":false,"zero":false},"axis":null},"y2":{"field":"p2"}}},
{"data":{"name":"notes"},"mark":{"type":"text","clip":true,"font":"Liberation Serif","fontSize":17,"color":"#0000FF","align":"center","baseline":"middle"},
 "encoding":{"x":{"field":"t","type":"quantitative","axis":null},"y":{"field":"p","type":"quantitative","scale":{"domain":[0.75246,0.77388],"nice":false,"zero":false},"axis":null},"text":{"field":"txt"}}},
{"data":{"name":"signals"},"transform":[{"filter":"datum.k == 'mB'"}],"mark":{"type":"point","clip":true,"filled":true,"color":"#0000FF","opacity":1,"size":576,"shape":"M-1,0 L-0.85,-0.25 L0.85,-0.25 L1,0 L0.85,0.25 L-0.85,0.25 Z"},
 "encoding":{"x":{"field":"t","type":"quantitative","axis":null},"y":{"field":"p","type":"quantitative","scale":{"domain":[0.75246,0.77388],"nice":false,"zero":false},"axis":null}}},
{"data":{"name":"signals"},"transform":[{"filter":"datum.k == 'mR'"}],"mark":{"type":"point","clip":true,"filled":true,"color":"#FF0000","opacity":1,"size":576,"shape":"M-1,0 L-0.85,-0.25 L0.85,-0.25 L1,0 L0.85,0.25 L-0.85,0.25 Z"},
 "encoding":{"x":{"field":"t","type":"quantitative","axis":null},"y":{"field":"p","type":"quantitative","scale":{"domain":[0.75246,0.77388],"nice":false,"zero":false},"axis":null}}},
{"data":{"name":"signals"},"transform":[{"filter":"datum.k == 'sell'"}],"mark":{"type":"point","clip":true,"filled":true,"color":"#FF0000","opacity":1,"size":784,"shape":"M-0.28,-1 L0.28,-1 L0.28,0.15 L0.78,0.15 L0,1 L-0.78,0.15 L-0.28,0.15 Z"},
 "encoding":{"x":{"field":"t","type":"quantitative","axis":null},"y":{"field":"p","type":"quantitative","scale":{"domain":[0.75246,0.77388],"nice":false,"zero":false},"axis":null}}},
{"data":{"name":"signals"},"transform":[{"filter":"datum.k == 'buy'"}],"mark":{"type":"point","clip":true,"filled":true,"color":"#22EE22","opacity":1,"size":900,"shape":"M-0.28,1 L0.28,1 L0.28,-0.15 L0.78,-0.15 L0,-1 L-0.78,-0.15 L-0.28,-0.15 Z"},
 "encoding":{"x":{"field":"t","type":"quantitative","axis":null},"y":{"field":"p","type":"quantitative","scale":{"domain":[0.75246,0.77388],"nice":false,"zero":false},"axis":null}}},
{"data":{"name":"signals"},"transform":[{"filter":"datum.k == 'sellH'"}],"mark":{"type":"point","clip":true,"filled":false,"fill":"#FFFFFF","fillOpacity":1,"stroke":"#FF2020","strokeWidth":1.5,"opacity":1,"size":361,"shape":"M-0.3,-1 L0.3,-1 L0.3,0 L0.84,0 L0,1 L-0.84,0 L-0.3,0 Z"},
 "encoding":{"x":{"field":"t","type":"quantitative","axis":null},"y":{"field":"p","type":"quantitative","scale":{"domain":[0.75246,0.77388],"nice":false,"zero":false},"axis":null}}},
{"data":{"name":"signals"},"transform":[{"filter":"datum.k == 'buyH'"}],"mark":{"type":"point","clip":true,"filled":false,"fill":"#FFFFFF","fillOpacity":1,"stroke":"#FF2020","strokeWidth":1.5,"opacity":1,"size":361,"shape":"M-0.3,1 L0.3,1 L0.3,0 L0.84,0 L0,-1 L-0.84,0 L-0.3,0 Z"},
 "encoding":{"x":{"field":"t","type":"quantitative","axis":null},"y":{"field":"p","type":"quantitative","scale":{"domain":[0.75246,0.77388],"nice":false,"zero":false},"axis":null}}}
]
},
{
"width":1297,"height":81,
"view":{"stroke":"#000000"},
"title":{"text":"MACD(12,26,9) -0.000255 -0.000299 0.000000 -0.000046","anchor":"start","orient":"top","frame":"group","offset":-22,"baseline":"bottom","dx":4},
"resolve":{"axis":{"x":"independent","y":"independent"}},
"layer":[
{"data":{"name":"macd"},"mark":{"type":"bar","size":8},
 "encoding":{"x":{"field":"t","type":"quantitative","scale":{"domain":[0,648.5],"nice":false,"zero":false},
 "axis":{"orient":"bottom","values":[0,32,64,96,128,160,192,224,256,288,320,352,384,416,448,480,512],"labelExpr":"['30 Oct 2017','31 Oct 16:00','2 Nov 00:00','3 Nov 08:00','6 Nov 17:00','8 Nov 01:00','9 Nov 09:00','10 Nov 17:00','14 Nov 01:00','15 Nov 09:00','16 Nov 17:00','20 Nov 01:00','21 Nov 09:00','22 Nov 17:00','24 Nov 01:00','27 Nov 09:00','28 Nov 17:00'][round(datum.value/32)]","labelAlign":"left","labelBaseline":"top","labelPadding":2,"labelOffset":{"condition":{"test":"datum.value == 0","value":0},"value":-4},"tickSize":3,"labelFlush":false,"labelBound":false,"title":null}},
 "y":{"field":"h","type":"quantitative","scale":{"domain":[-0.001755,0.001695],"nice":false,"zero":false},"axis":{"orient":"right","values":[0.001396,0,-0.001499],"labelExpr":"datum.value == 0 ? '0.00' : format(datum.value, '.6f')","tickSize":3,"labelPadding":4,"title":null,"labelBound":false}},
 "y2":{"datum":0},
 "color":{"condition":{"test":"datum.h >= 0","value":"#00FF00"},"value":"#FF0000"}}},
{"data":{"name":"macd"},"mark":{"type":"line","color":"#0000FF","strokeWidth":2},
 "encoding":{"x":{"field":"t","type":"quantitative","axis":null},"y":{"field":"m","type":"quantitative","axis":null}}},
{"data":{"name":"macd"},"mark":{"type":"line","color":"#FF0000","strokeWidth":2},
 "encoding":{"x":{"field":"t","type":"quantitative","axis":null},"y":{"field":"s","type":"quantitative","axis":null}}}
]
}
]
}
